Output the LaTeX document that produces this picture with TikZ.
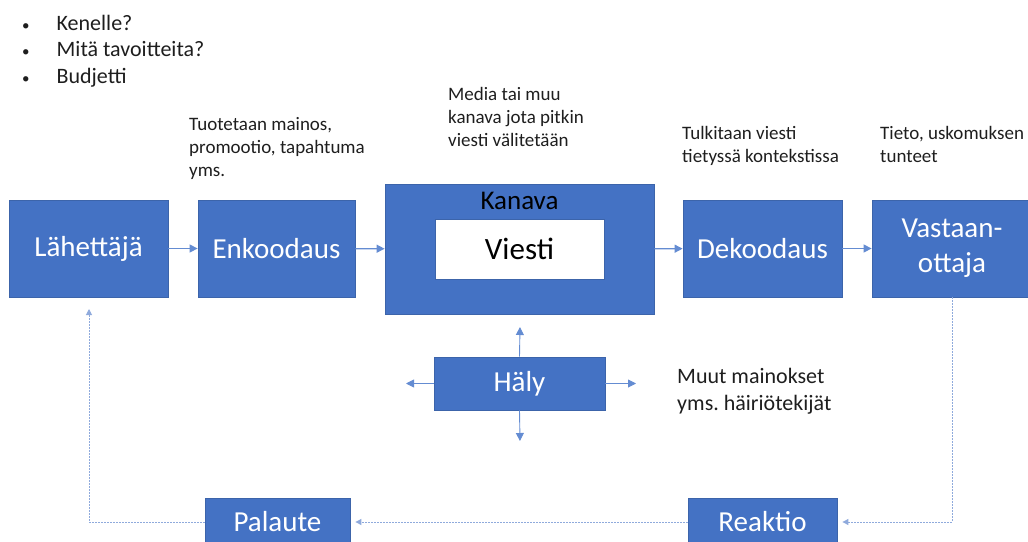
\documentclass[tikz,border=0pt]{standalone}
\usepackage{fontspec}
\setmainfont{Carlito}
\usetikzlibrary{arrows.meta}
\definecolor{officeblue}{RGB}{68,114,196}
\definecolor{boxedge}{RGB}{60,100,170}
\definecolor{flowblue}{RGB}{100,140,210}
\definecolor{loopblue}{RGB}{143,170,220}
\definecolor{notegray}{RGB}{30,30,30}
\newcommand{\fsz}[2]{\fontsize{#1}{#2}\selectfont}
\frenchspacing

\begin{document}
\begin{tikzpicture}[x=1pt, y=-1pt,
  block/.style={draw=boxedge, line width=0.8pt, fill=officeblue, text=white,
    inner sep=0pt, align=center, font=\fsz{29}{35}},
  note/.style={anchor=north west, inner sep=0pt, align=left,
    text=notegray, font=\fsz{19}{23}},
  flow/.style={-{Triangle[length=8pt,width=8pt]}, line width=1.3pt, draw=flowblue},
  back/.style={-{Triangle[length=6pt,width=6pt]}, line width=1pt,
    dash pattern=on 1.5pt off 1.5pt, draw=loopblue, shorten >=5pt}
]
  \useasboundingbox (0,0) rectangle (1028,541);

  % top row
  \node[block, minimum width=159pt, minimum height=97pt] (send) at (88.5,248.5) {Lähettäjä};
  \node[block, minimum width=157pt, minimum height=97pt] (enc) at (276.5,248.5) {Enkoodaus};
  \node[block, minimum width=269pt, minimum height=130pt] (kan) at (519.5,249) {};
  \node[font=\fsz{27}{32}, text=black] (kanlab) at (519.5,201) {Kanava};
  \node[draw=boxedge, line width=0.8pt, fill=white, minimum width=169pt, minimum height=60pt,
    font=\fsz{31}{37}, text=black] (vie) at (519.5,249) {Viesti};
  \node[block, minimum width=159pt, minimum height=97pt] (dek) at (762.5,248.5) {Dekoodaus};
  \node[block, minimum width=160pt, minimum height=97pt] (vas) at (952,248.5) {Vastaan-\\ottaja};

  % noise
  \node[block, minimum width=171pt, minimum height=53pt] (haly) at (519.5,383.5) {Häly};

  % feedback row
  \node[block, minimum width=145pt, minimum height=48pt] (pal) at (277.5,522) {Palaute};
  \node[block, minimum width=149pt, minimum height=48pt] (rea) at (762.5,522) {Reaktio};

  % notes
  \node[note, font=\fsz{22}{26.5}] (who) at (22,15)
    {{\fsz{15}{26.5}\textbullet}\hspace{27pt}Kenelle?\\
     {\fsz{15}{26.5}\textbullet}\hspace{27pt}Mitä tavoitteita?\\
     {\fsz{15}{26.5}\textbullet}\hspace{27pt}Budjetti};
  \node[note] (encnote) at (189,117) {Tuotetaan mainos,\\ promootio, tapahtuma\\ yms.};
  \node[note] (kannote) at (448,87) {Media tai muu\\ kanava jota pitkin\\ viesti välitetään};
  \node[note] (deknote) at (682,126) {Tulkitaan viesti\\ tietyssä kontekstissa};
  \node[note] (vasnote) at (880,126) {Tieto, uskomuksen\\ tunteet};
  \node[note, font=\fsz{22}{27}] (halynote) at (677,368) {Muut mainokset\\ yms. häiriötekijät};

  % free ends
  \coordinate (hup) at (520,327);
  \coordinate (hdown) at (520,441);
  \coordinate (hleft) at (406,383.5);
  \coordinate (hright) at (636,383.5);
  \coordinate (sendin) at (89,309);

  % main flow
  \draw[flow] (send) -- (enc);
  \draw[flow] (enc) -- (kan);
  \draw[flow] (kan) -- (dek);
  \draw[flow] (dek) -- (vas);

  \draw[flow, line width=0.9pt] (haly.north) -- (hup);
  \draw[flow, line width=0.9pt] (haly.south) -- (hdown);
  \draw[flow, line width=0.9pt] (haly.west) -- (hleft);
  \draw[flow, line width=0.9pt] (haly.east) -- (hright);

  % feedback loop
  \draw[back] (vas.south) |- (rea.east);
  \draw[back] (rea.west) -- (pal.east);
  \draw[back, shorten >=0pt] (pal.west) -| (sendin);
\end{tikzpicture}
\end{document}
